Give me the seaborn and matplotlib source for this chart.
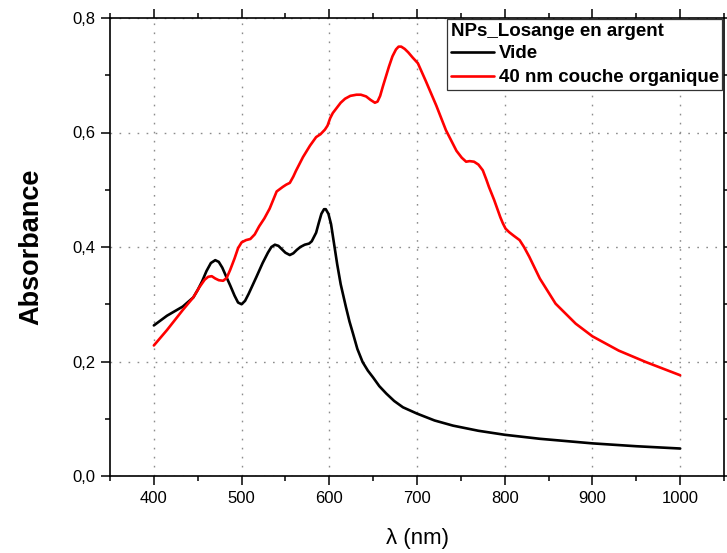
import numpy as np
import pandas as pd
import matplotlib
matplotlib.use("Agg")
import matplotlib.pyplot as plt
from matplotlib.ticker import MultipleLocator, FuncFormatter
from matplotlib.lines import Line2D
import seaborn as sns

# ---- data ----
vide_wl = [400, 415, 433, 445, 450, 455, 460, 465, 470, 474, 478, 482, 487, 492,
           496, 500, 504, 508, 517, 524, 530, 534, 538, 542, 546, 550, 555, 559,
           563, 567, 572, 577, 580, 585, 588, 591, 594, 596, 599, 602, 605, 609,
           613, 619, 623, 627, 632, 638, 644, 650, 657, 665, 674, 684, 700, 720,
           741, 770, 800, 840, 885, 900, 950, 1000]
vide_abs = [0.263, 0.280, 0.296, 0.312, 0.325, 0.340, 0.358, 0.372, 0.377, 0.374,
            0.364, 0.350, 0.333, 0.315, 0.303, 0.300, 0.306, 0.318, 0.348, 0.372,
            0.390, 0.400, 0.404, 0.402, 0.396, 0.390, 0.386, 0.389, 0.395, 0.400,
            0.404, 0.406, 0.410, 0.425, 0.442, 0.458, 0.466, 0.466, 0.458, 0.440,
            0.410, 0.370, 0.335, 0.295, 0.270, 0.249, 0.222, 0.199, 0.184, 0.172,
            0.157, 0.144, 0.131, 0.120, 0.109, 0.097, 0.088, 0.079, 0.072, 0.065,
            0.059, 0.057, 0.052, 0.048]

org_wl = [400, 415, 433, 445, 452, 458, 462, 466, 470, 474, 479, 483, 487, 492,
          496, 500, 505, 510, 515, 520, 526, 532, 540, 547, 551, 555, 559, 562,
          570, 578, 585, 590, 595, 598, 601, 604, 608, 613, 618, 624, 631, 636,
          642, 647, 652, 655, 658, 661, 664, 668, 672, 676, 679, 682, 686, 690,
          695, 701, 710, 722, 733, 745, 751, 756, 760, 765, 770, 775, 779, 782,
          788, 795, 798, 801, 805, 810, 817, 822, 828, 840, 858, 881, 900, 930,
          961, 1000]
org_abs = [0.228, 0.255, 0.290, 0.312, 0.330, 0.343, 0.348, 0.349, 0.345, 0.342,
           0.341, 0.346, 0.360, 0.380, 0.398, 0.408, 0.412, 0.414, 0.422, 0.436,
           0.450, 0.467, 0.497, 0.505, 0.509, 0.512, 0.523, 0.533, 0.557, 0.577,
           0.592, 0.597, 0.605, 0.612, 0.625, 0.634, 0.642, 0.652, 0.659, 0.664,
           0.666, 0.666, 0.663, 0.657, 0.652, 0.654, 0.664, 0.680, 0.695, 0.715,
           0.733, 0.745, 0.750, 0.750, 0.746, 0.740, 0.731, 0.721, 0.690, 0.647,
           0.604, 0.568, 0.556, 0.549, 0.550, 0.549, 0.544, 0.534, 0.518, 0.505,
           0.482, 0.452, 0.441, 0.432, 0.426, 0.420, 0.412, 0.400, 0.383, 0.345,
           0.301, 0.266, 0.244, 0.219, 0.199, 0.176]

series_names = ["Vide", "40 nm couche organique"]
series_colors = ["#000000", "#ff0000"]
legend_title = "NPs_Losange en argent"
x_ticks = [400, 500, 600, 700, 800, 900, 1000]
y_ticks = [0.0, 0.2, 0.4, 0.6, 0.8]

df = pd.concat([
    pd.DataFrame({"wl": vide_wl, "A": vide_abs, "serie": series_names[0]}),
    pd.DataFrame({"wl": org_wl, "A": org_abs, "serie": series_names[1]}),
], ignore_index=True)

sns.set_style("ticks")
plt.rcParams["font.family"] = ["Liberation Sans", "DejaVu Sans"]
plt.rcParams["text.color"] = "black"
plt.rcParams["axes.labelcolor"] = "black"
plt.rcParams["xtick.color"] = "black"
plt.rcParams["ytick.color"] = "black"

fig = plt.figure(figsize=(7.27, 5.53), dpi=100)
ax = fig.add_axes([110 / 727, 1 - 476 / 553, (724 - 110) / 727, (476 - 18) / 553])

sns.lineplot(data=df, x="wl", y="A", hue="serie", hue_order=series_names,
             palette=series_colors, linewidth=1.9, sort=False, estimator=None,
             ax=ax, legend=False)
for ln in ax.lines:
    ln.set_solid_joinstyle("round")

ax.set_xlim(350, 1050)
ax.set_ylim(0.0, 0.8)
ax.set_xticks(x_ticks)
ax.set_yticks(y_ticks)
ax.xaxis.set_minor_locator(MultipleLocator(50))
ax.yaxis.set_minor_locator(MultipleLocator(0.1))
ax.yaxis.set_major_formatter(FuncFormatter(lambda v, p: f"{v:.1f}".replace(".", ",")))

ax.grid(True, which="major", color="#8c8c8c", linestyle=(0, (1.2, 5.3)), linewidth=1.0)
ax.set_axisbelow(True)

for s in ax.spines.values():
    s.set_visible(True)
    s.set_linewidth(1.2)
    s.set_color("black")

ax.tick_params(axis="both", which="both", direction="out", color="black",
               labelcolor="black", labelsize=12, width=1.1,
               top=True, right=True, labeltop=False, labelright=False)
ax.tick_params(axis="both", which="major", length=6.5, pad=4)
ax.tick_params(axis="both", which="minor", length=3.8)

ax.set_xlabel("λ (nm)", fontsize=16, labelpad=16, color="black")
ax.set_ylabel("Absorbance", fontsize=19.5, fontweight="bold", labelpad=20, color="black")

handles = [Line2D([0], [0], color=c, lw=1.9) for c in series_colors]
leg = ax.legend(handles, series_names, title=legend_title, loc="upper left",
                bbox_to_anchor=((447 - 110) / 614, 1.0 - 1 / 458),
                prop={"weight": "bold", "size": 13.5},
                title_fontproperties={"weight": "bold", "size": 13.5},
                frameon=True, fancybox=False, shadow=False, framealpha=1,
                borderpad=0.2, labelspacing=0.35, handlelength=2.3,
                handletextpad=0.25, borderaxespad=0.0)
leg._legend_box.align = "left"
leg._legend_box.sep = 4
leg.get_frame().set_edgecolor("#333333")
leg.get_frame().set_linewidth(0.9)

fig.savefig("out.png", dpi=100)
